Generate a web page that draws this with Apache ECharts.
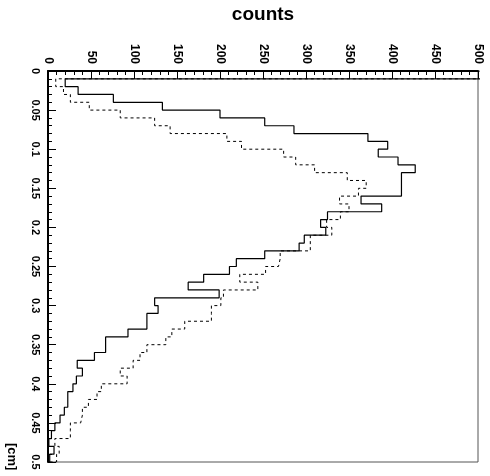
<!DOCTYPE html>
<html>
<head>
<meta charset="utf-8">
<script src="https://cdn.jsdelivr.net/npm/echarts@6/dist/echarts.min.js"></script>
<style>
html,body{margin:0;padding:0;background:#fff;}
#chart{width:490px;height:476px;}
</style>
</head>
<body>
<div id="chart"></div>
<script>
// Bin edges along the length axis [cm]
const binEdges = [0,0.01,0.02,0.03,0.04,0.05,0.06,0.07,0.08,0.09,
  0.10,0.11,0.12,0.13,0.14,0.15,0.16,0.17,0.18,0.19,
  0.20,0.21,0.22,0.23,0.24,0.25,0.26,0.27,0.28,0.29,
  0.30,0.31,0.32,0.33,0.34,0.35,0.36,0.37,0.38,0.39,
  0.40,0.41,0.42,0.43,0.44,0.45,0.46,0.47,0.48,0.49,0.50];

// Counts per bin (first bin is off-scale, clipped at the frame)
const solidCounts = [600,20,35,76,133,200,252,286,372,395,
  384,407,427,411,411,411,364,388,325,317,
  323,298,292,252,219,211,181,163,199,124,
  128,115,115,93,67,67,54,34,40,33,
  29,23,23,19,14,8,4,1,7,2];

const dashedCounts = [600,9,18,26,48,84,124,142,208,225,
  274,288,310,348,370,361,339,350,340,324,
  330,305,305,270,268,253,223,244,204,201,
  190,190,159,144,137,115,107,99,84,92,
  62,57,47,40,38,26,26,8,13,10];

const countTicks = [0,50,100,150,200,250,300,350,400,450,500];
const cmTicks = [0,0.05,0.1,0.15,0.2,0.25,0.3,0.35,0.4,0.45,0.5];

function stepPoints(counts){
  const pts = [[0, binEdges[0]]];
  for (let i = 0; i < counts.length; i++){
    pts.push([counts[i], binEdges[i]]);
    pts.push([counts[i], binEdges[i+1]]);
  }
  pts.push([0, binEdges[binEdges.length-1]]);
  return pts;
}

const chart = echarts.init(document.getElementById('chart'), null, {renderer:'canvas'});
const FONT = 'Liberation Sans, Arial, Helvetica, sans-serif';
chart.setOption({
  animation:false,
  backgroundColor:'#fff',
  grid:{left:48, top:69, right:12, bottom:14, show:true, borderColor:'#555', borderWidth:1},
  xAxis:{
    type:'value', position:'top',
    min:countTicks[0], max:countTicks[countTicks.length-1], interval:50,
    name:'counts', nameLocation:'middle', nameGap:47,
    nameTextStyle:{fontFamily:FONT, fontWeight:'bold', fontSize:19, color:'#000'},
    axisLine:{show:true, lineStyle:{color:'#000', width:2}},
    axisTick:{show:true, inside:true, length:8, lineStyle:{color:'#000', width:1}},
    minorTick:{show:true, splitNumber:5, length:4, lineStyle:{color:'#000', width:1}},
    axisLabel:{rotate:-90, margin:7, fontFamily:FONT, fontWeight:'bold', fontSize:12, color:'#000'},
    splitLine:{show:false}
  },
  yAxis:{
    type:'value', inverse:true,
    min:cmTicks[0], max:cmTicks[cmTicks.length-1], interval:0.05,
    axisLine:{show:true, lineStyle:{color:'#000', width:2}},
    axisTick:{show:true, inside:true, length:8, lineStyle:{color:'#000', width:1}},
    minorTick:{show:true, splitNumber:5, length:4, lineStyle:{color:'#000', width:1}},
    axisLabel:{rotate:-90, margin:7, fontFamily:FONT, fontWeight:'bold', fontSize:11, color:'#000'},
    splitLine:{show:false}
  },
  graphic:[{
    type:'text', left:5, top:443, rotation:-Math.PI/2,
    style:{text:'[cm]', font:'bold 13px ' + FONT, fill:'#000'}
  }],
  series:[
    {type:'line', data:stepPoints(dashedCounts), showSymbol:false, clip:true,
     lineStyle:{color:'#000', width:1, type:[3,3]}},
    {type:'line', data:stepPoints(solidCounts), showSymbol:false, clip:true,
     lineStyle:{color:'#000', width:1.2}}
  ]
});
</script>
</body>
</html>
